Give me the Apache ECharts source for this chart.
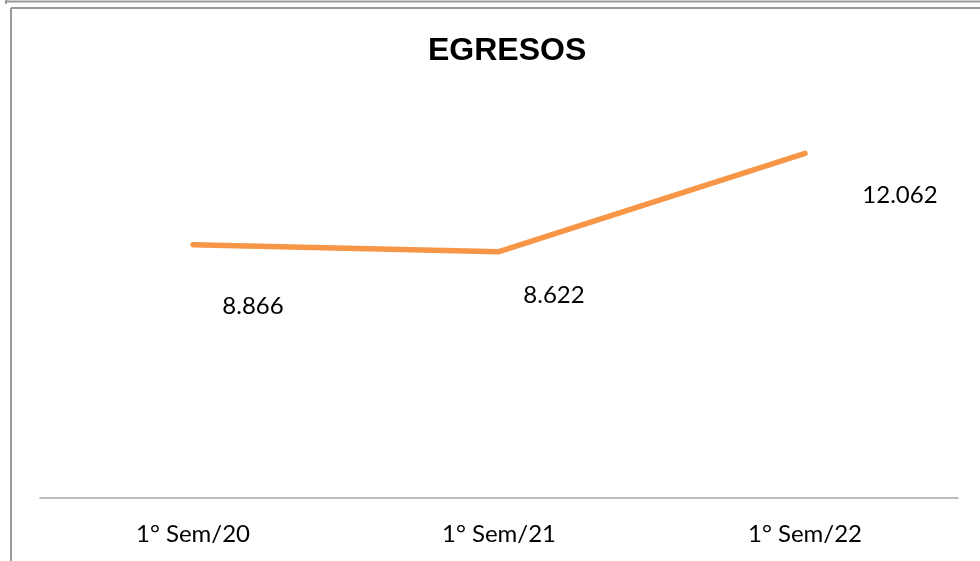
<!DOCTYPE html>
<html>
<head>
<meta charset="utf-8">
<script src="https://cdn.jsdelivr.net/npm/echarts@6/dist/echarts.min.js"></script>
<style>
  html, body { margin: 0; padding: 0; background: #fff; }
  #chart { width: 980px; height: 561px; }
</style>
</head>
<body>
<div id="chart"></div>
<script>
const categories = ['1° Sem/20', '1° Sem/21', '1° Sem/22']
const egresos = [8866, 8622, 12062]
const labelOffsets = [[60, 62], [55, 44], [95, 42]]

const fmt = v => String(v).replace(/\B(?=(\d{3})+(?!\d))/g, '.')

const chart = echarts.init(document.getElementById('chart'))
chart.setOption({
  animation: false,
  title: {
    text: 'EGRESOS',
    left: 423,
    top: 30,
    textStyle: {
      fontFamily: 'Liberation Sans',
      fontWeight: 'bold',
      fontSize: 32,
      color: '#000'
    }
  },
  graphic: [
    { type: 'line', shape: { x1: 6, y1: 1.5, x2: 980, y2: 1.5 }, style: { stroke: '#999', lineWidth: 2 } },
    { type: 'line', shape: { x1: 6, y1: 0, x2: 6, y2: 4 }, style: { stroke: '#999', lineWidth: 2 } },
    { type: 'line', shape: { x1: 11, y1: 8, x2: 980, y2: 8 }, style: { stroke: '#999', lineWidth: 2 } },
    { type: 'line', shape: { x1: 11, y1: 8, x2: 11, y2: 561 }, style: { stroke: '#999', lineWidth: 2 } }
  ],
  grid: {
    left: 40,
    right: 22,
    top: 98,
    bottom: 63
  },
  xAxis: {
    type: 'category',
    data: categories,
    boundaryGap: true,
    axisTick: { show: false },
    axisLine: { lineStyle: { color: '#a6a6a6', width: 1.5 } },
    axisLabel: {
      color: '#000',
      fontFamily: 'Lato',
      fontSize: 24,
      margin: 24
    }
  },
  yAxis: {
    type: 'value',
    min: 0,
    max: 14000,
    show: false,
    splitLine: { show: false }
  },
  series: [{
    type: 'line',
    data: egresos.map((v, i) => ({
      value: v,
      label: { offset: labelOffsets[i] }
    })),
    symbol: 'circle',
    symbolSize: 1,
    itemStyle: { color: 'rgba(0,0,0,0)' },
    lineStyle: { color: '#F79646', width: 5.5, cap: 'round' },
    label: {
      show: true,
      position: 'inside',
      color: '#000',
      fontFamily: 'Lato',
      fontSize: 24,
      formatter: p => fmt(p.value)
    }
  }]
})
</script>
</body>
</html>
